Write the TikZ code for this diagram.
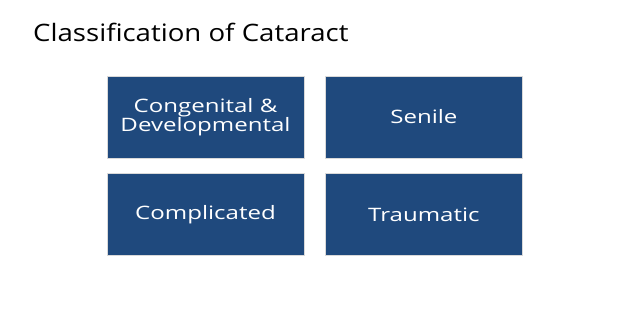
\documentclass[tikz,border=0pt]{standalone}
\usepackage{fontspec}
\setmainfont[FakeStretch=1.15]{Open Sans}
\newfontfamily\boxfont[FakeStretch=1.3]{Open Sans}
\usetikzlibrary{positioning}

\definecolor{catblue}{RGB}{31,73,125}

\begin{document}
\begin{tikzpicture}[
        x=1pt, y=-1pt,
        node distance=15pt and 21pt,
        category/.style={rectangle, draw=gray!30, fill=catblue, text=white, minimum width=197pt, minimum height=82pt, inner sep=0pt, align=center, font=\boxfont\fontsize{18.5}{19}\selectfont},
        heading/.style={anchor=base west, font=\fontsize{24}{30}\selectfont}
    ]
        \useasboundingbox (0,0) rectangle (628,331);

        % Title
        \node[heading, inner sep=0pt] (title) at (33,42) {Classification of Cataract};

        % Categories
        \node[category] (congenital) at (205.5,117) {Congenital \&\\Developmental};
        \node[category, right=of congenital] (senile) {Senile};
        \node[category, below=of congenital] (complicated) {Complicated};
        \node[category, right=of complicated] (traumatic) {Traumatic};

    \end{tikzpicture}
\end{document}
